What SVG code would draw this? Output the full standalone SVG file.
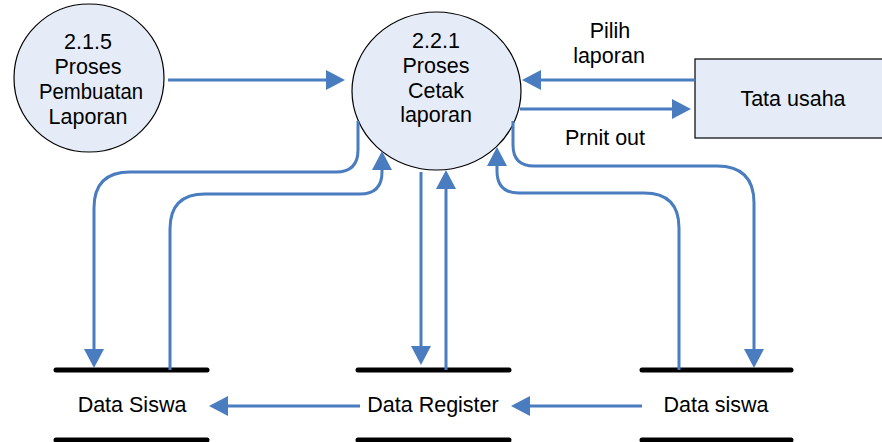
<svg xmlns="http://www.w3.org/2000/svg" width="882" height="442" viewBox="0 0 882 442">
  <style>
    .proc { fill: #E6ECF7; stroke: #000; stroke-width: 1.2; }
    .ext { fill: #E6ECF7; stroke: #000; stroke-width: 1.2; }
    .store { stroke: #000; stroke-width: 5; stroke-linecap: round; fill: none; }
    .arr { stroke: #4A7CC0; stroke-width: 3; fill: none; marker-end: url(#head); }
    text { font-family: "Liberation Sans", Arial, sans-serif; font-size: 21.5px; fill: #000; text-anchor: middle; }
  </style>
  <defs>
    <marker id="head" viewBox="0 0 19 20" refX="0" refY="10" markerWidth="19" markerHeight="20" markerUnits="userSpaceOnUse" orient="auto">
      <path d="M0,0 L19,10 L0,20 Z" fill="#4A7CC0"/>
    </marker>
  </defs>

  <rect width="882" height="442" fill="#fff"/>

  <!-- processes -->
  <g id="p215">
    <ellipse class="proc" cx="89" cy="78" rx="75" ry="74"/>
    <text x="88" y="48.5">2.1.5</text>
    <text x="88" y="73.5">Proses</text>
    <text x="91" y="98.5" textLength="104" lengthAdjust="spacingAndGlyphs">Pembuatan</text>
    <text x="88" y="123.5">Laporan</text>
  </g>

  <g id="p221">
    <ellipse class="proc" cx="436.5" cy="91" rx="84.5" ry="79"/>
    <text x="436" y="48">2.2.1</text>
    <text x="436" y="73">Proses</text>
    <text x="436" y="97.5">Cetak</text>
    <text x="436" y="122">laporan</text>
  </g>

  <!-- external entity -->
  <g id="tata-usaha">
    <rect class="ext" x="695" y="59" width="200" height="79"/>
    <text x="793" y="106">Tata usaha</text>
  </g>

  <!-- data stores -->
  <g id="store-data-siswa-left">
    <line class="store" x1="56" y1="370" x2="207" y2="370"/>
    <line class="store" x1="56" y1="440" x2="207" y2="440"/>
    <text x="132" y="412">Data Siswa</text>
  </g>
  <g id="store-data-register">
    <line class="store" x1="358" y1="370" x2="509" y2="370"/>
    <line class="store" x1="358" y1="440" x2="509" y2="440"/>
    <text x="433" y="412">Data Register</text>
  </g>
  <g id="store-data-siswa-right">
    <line class="store" x1="642" y1="370" x2="791" y2="370"/>
    <line class="store" x1="642" y1="440" x2="791" y2="440"/>
    <text x="716" y="412">Data siswa</text>
  </g>

  <!-- data flows -->
  <g id="connectors">
    <path class="arr" d="M168,80 H326"/>
    <path class="arr" d="M695,80 H541"/>
    <path class="arr" d="M520,109 H672"/>
    <path class="arr" d="M360,406 H228"/>
    <path class="arr" d="M642,406 H530"/>

    <path class="arr" d="M358,121 V150 Q358,172 336,172 H130 Q94,172 94,208 V349"/>
    <path class="arr" d="M170,370 V229 Q170,194 205,194 H360 Q382,194 382,172 V170"/>
    <path class="arr" d="M421,172 V346"/>
    <path class="arr" d="M446,370 V189"/>
    <path class="arr" d="M679,370 V228 Q679,193 644,193 H519 Q497,193 497,171 V166"/>
    <path class="arr" d="M513,121 V145 Q513,166 534,166 H717 Q754,166 754,203 V349"/>

    <text x="610" y="38">Pilih</text>
    <text x="609" y="63">laporan</text>
    <text x="605" y="145">Prnit out</text>
  </g>
</svg>
